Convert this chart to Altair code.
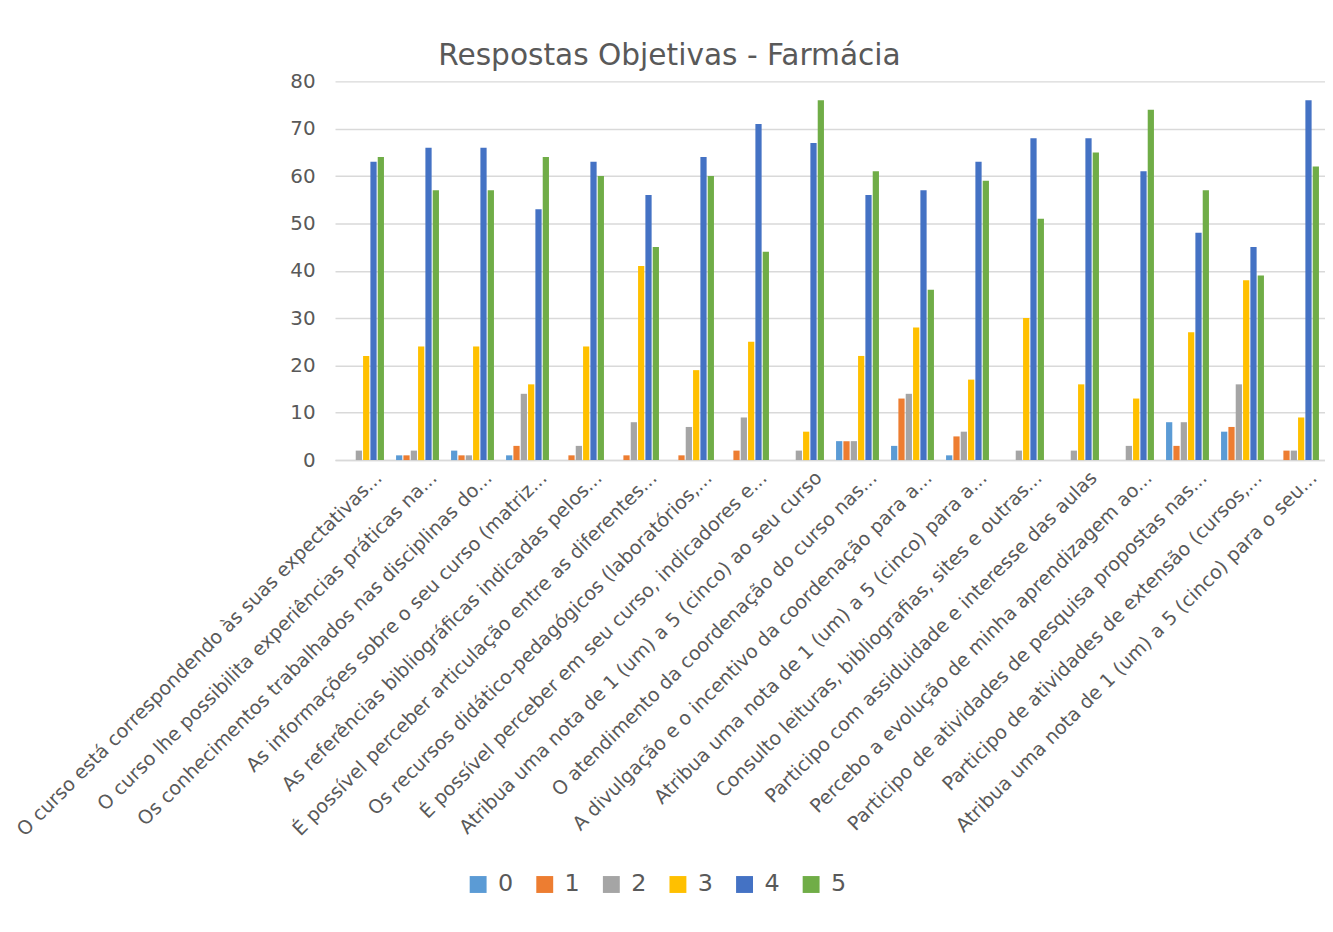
import altair as alt
import pandas as pd

categories = [
    "O curso está correspondendo às suas expectativas...",
    "O curso lhe possibilita experiências práticas na...",
    "Os conhecimentos trabalhados nas disciplinas do...",
    "As informações sobre o seu curso (matriz...",
    "As referências bibliográficas indicadas pelos...",
    "É possível perceber articulação entre as diferentes...",
    "Os recursos didático-pedagógicos (laboratórios,...",
    "É possível perceber em seu curso, indicadores e...",
    "Atribua uma nota de 1 (um) a 5 (cinco) ao seu curso",
    "O atendimento da coordenação do curso nas...",
    "A divulgação e o incentivo da coordenação para a...",
    "Atribua uma nota de 1 (um) a 5 (cinco) para a...",
    "Consulto leituras, bibliografias, sites e outras...",
    "Participo com assiduidade e interesse das aulas",
    "Percebo a evolução de minha aprendizagem ao...",
    "Participo de atividades de pesquisa propostas nas...",
    "Participo de atividades de extensão (cursos,...",
    "Atribua uma nota de 1 (um) a 5 (cinco) para o seu...",
]
series_names = ["0", "1", "2", "3", "4", "5"]
r0 = [0, 1, 2, 1, 0, 0, 0, 0, 0, 4, 3, 1, 0, 0, 0, 8, 6, 0]
r1 = [0, 1, 1, 3, 1, 1, 1, 2, 0, 4, 13, 5, 0, 0, 0, 3, 7, 2]
r2 = [2, 2, 1, 14, 3, 8, 7, 9, 2, 4, 14, 6, 2, 2, 3, 8, 16, 2]
r3 = [22, 24, 24, 16, 24, 41, 19, 25, 6, 22, 28, 17, 30, 16, 13, 27, 38, 9]
r4 = [63, 66, 66, 53, 63, 56, 64, 71, 67, 56, 57, 63, 68, 68, 61, 48, 45, 76]
r5 = [64, 57, 57, 64, 60, 45, 60, 44, 76, 61, 36, 59, 51, 65, 74, 57, 39, 62]
series_colors = ["#5B9BD5", "#ED7D31", "#A5A5A5", "#FFC000", "#4472C4", "#70AD47"]

rows = []
for name, vals in zip(series_names, [r0, r1, r2, r3, r4, r5]):
    for cat, v in zip(categories, vals):
        rows.append({"pergunta": cat, "resposta": name, "valor": v})
df = pd.DataFrame(rows)

FONT = "DejaVu Sans"
GREY_TXT = "#595959"
GRID = "#d9d9d9"

chart = (
    alt.Chart(df)
    .mark_bar()
    .encode(
        x=alt.X(
            "pergunta:N",
            sort=categories,
            title=None,
            scale=alt.Scale(paddingInner=0.22, paddingOuter=0.11),
            axis=alt.Axis(
                labelAngle=-45,
                labelFontSize=19.3,
                labelLimit=1000,
                labelColor=GREY_TXT,
                labelFont=FONT,
                labelOffset=10,
                ticks=False,
                domainColor=GRID,
                domainWidth=1.5,
                labelPadding=8,
            ),
        ),
        xOffset=alt.XOffset(
            "resposta:N",
            sort=series_names,
            scale=alt.Scale(paddingInner=0.15),
        ),
        y=alt.Y(
            "valor:Q",
            title=None,
            scale=alt.Scale(domain=[0, 80]),
            axis=alt.Axis(
                values=[0, 10, 20, 30, 40, 50, 60, 70, 80],
                labelFontSize=20,
                labelColor=GREY_TXT,
                labelFont=FONT,
                ticks=False,
                domain=False,
                gridColor=GRID,
                gridWidth=1.5,
                labelPadding=20,
            ),
        ),
        color=alt.Color(
            "resposta:N",
            sort=series_names,
            scale=alt.Scale(domain=series_names, range=series_colors),
            legend=alt.Legend(
                title=None,
                orient="none",
                direction="horizontal",
                legendX=132,
                legendY=796,
                symbolType="square",
                symbolSize=289,
                symbolStrokeWidth=0,
                labelFontSize=24,
                labelFont=FONT,
                labelColor=GREY_TXT,
                labelOffset=8,
                columnPadding=19,
            ),
        ),
    )
    .properties(
        width=996,
        height=381,
        title=alt.TitleParams(
            "Respostas Objetivas - Farmácia",
            fontSize=29.8,
            font=FONT,
            fontWeight="normal",
            color=GREY_TXT,
            anchor="middle",
            frame="bounds",
            offset=1,
        ),
        padding={"left": 5, "top": 30, "right": 0, "bottom": 40},
    )
    .configure_view(stroke=None)
)

chart.save("out.html", embed_options={"renderer": "svg", "actions": False})
